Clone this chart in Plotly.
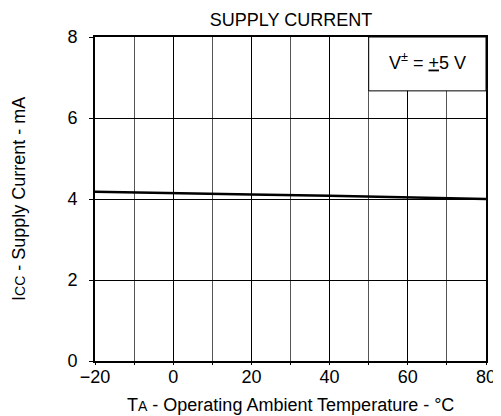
import plotly.graph_objects as go

temperature_c = [-20, 0, 20, 40, 60, 80]
supply_current_ma = [4.18, 4.14, 4.11, 4.08, 4.04, 4.00]

x_ticks = [-20, 0, 20, 40, 60, 80]
x_tick_labels = ["\u221220", "0", "20", "40", "60", "80"]
y_ticks = [0, 2, 4, 6, 8]

title_text = "SUPPLY CURRENT"
x_title = "T<span style='font-size:14px'>A</span> - Operating Ambient Temperature - \u00b0C"
y_title = "I<span style='font-size:14px'>CC</span> - Supply Current - mA"
condition_text = "V<sup>\u00b1</sup> = <u>+</u>5 V"

FONT = "Liberation Sans, Arial, sans-serif"
FS = 18

# The page body has an 8px margin; the figure is offset by it.
W, H = 493, 408
L, R, T, B = 87, 15, 29, 55
PH = H - T - B  # plot height in px
PW = W - L - R

fig = go.Figure()
fig.add_trace(go.Scatter(
    x=temperature_c, y=supply_current_ma, mode="lines",
    line=dict(color="black", width=2.5), showlegend=False, hoverinfo="skip"))

fig.add_shape(type="rect", xref="x", yref="y", x0=50, x1=80, y0=6.67, y1=8,
              fillcolor="white", line=dict(color="black", width=1), layer="above")
fig.add_annotation(x=65, y=7.4, xref="x", yref="y", text=condition_text,
                   showarrow=False, font=dict(family=FONT, size=FS, color="black"))

# axis titles as annotations (pixel-placed)
fig.add_annotation(x=0.5, xref="paper", y=-(44 / PH), yref="paper",
                   text=x_title, showarrow=False, xanchor="center", yanchor="middle",
                   font=dict(family=FONT, size=FS, color="black"))
fig.add_annotation(x=-(76 / PW), xref="paper", y=0.5, yref="paper",
                   text=y_title, showarrow=False, xanchor="center", yanchor="middle",
                   textangle=-90, font=dict(family=FONT, size=FS, color="black"))

fig.update_layout(
    width=W, height=H,
    margin=dict(l=L, r=R, t=T, b=B, autoexpand=False),
    paper_bgcolor="white", plot_bgcolor="white",
    font=dict(family=FONT, size=FS, color="black"),
    title=dict(text=title_text, x=(291 - 8) / W, xref="container", xanchor="center",
               y=1 - (19.5 - 8) / H, yref="container", yanchor="middle",
               font=dict(family=FONT, size=FS, color="black")),
    xaxis=dict(range=[-20, 80], tickvals=x_ticks, ticktext=x_tick_labels,
               showgrid=True, gridcolor="black", gridwidth=1,
               ticks="outside", ticklen=2, tickcolor="black",
               showline=True, linecolor="black", linewidth=2, mirror=True,
               zeroline=False, automargin=False, ticklabelstandoff=-4,
               minor=dict(dtick=10, showgrid=True, gridcolor="#555555", gridwidth=1,
                          ticks="outside", ticklen=2, tickcolor="black"),
               tickfont=dict(family=FONT, size=FS)),
    yaxis=dict(range=[0, 8], tickvals=y_ticks,
               showgrid=True, gridcolor="black", gridwidth=1,
               ticks="outside", ticklen=4, tickcolor="black",
               showline=True, linecolor="black", linewidth=2, mirror=True,
               zeroline=False, automargin=False, ticklabelstandoff=8,
               tickfont=dict(family=FONT, size=FS)),
)

fig.write_html("out.html")
